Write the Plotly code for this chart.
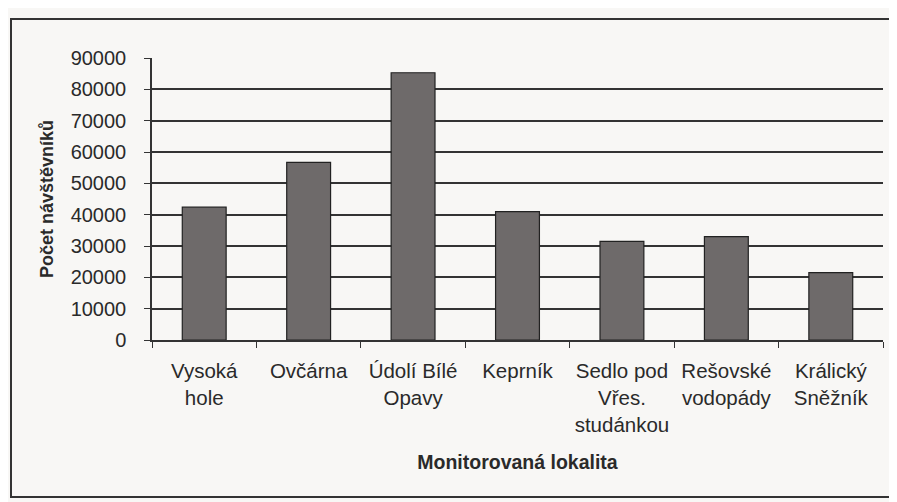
import plotly.graph_objects as go

categories = ["Vysoká<br>hole", "Ovčárna", "Údolí Bílé<br>Opavy", "Keprník",
              "Sedlo pod<br>Vřes.<br>studánkou", "Rešovské<br>vodopády", "Králický<br>Sněžník"]
visitors = [42400, 56700, 85300, 41000, 31500, 33000, 21500]
y_ticks = [0, 10000, 20000, 30000, 40000, 50000, 60000, 70000, 80000, 90000]

FONT = "Liberation Sans, Arial, sans-serif"

# figure is placed at (8,8) by the page's body margin
W, H = 889, 494
L, R, T, B = 144, 14, 50, 162
PW, PH = W - L - R, H - T - B

def px(x):
    return (x - L) / PW

def py(y):
    return (H - B - y) / PH

fig = go.Figure(go.Bar(
    x=categories, y=visitors,
    marker=dict(color="#6e6a6a", line=dict(color="#222222", width=1.2)),
    width=0.42,
))

fig.update_layout(
    width=W, height=H,
    margin=dict(l=L, r=R, t=T, b=B),
    paper_bgcolor="#f8f7f5", plot_bgcolor="#f8f7f5",
    showlegend=False,
    font=dict(family=FONT, color="#2a2a2a"),
    shapes=[dict(type="rect", xref="paper", yref="paper",
                 x0=px(3), x1=px(900), y0=py(489), y1=py(11),
                 line=dict(color="#333333", width=2))],
)
fig.update_xaxes(
    showline=True, linecolor="#333333", linewidth=1.5,
    ticks="outside", tickson="boundaries", ticklen=6, tickcolor="#333333",
    tickfont=dict(size=20.5, family=FONT, color="#2a2a2a"),
    ticklabelstandoff=12,
    title=dict(text="<b>Monitorovaná lokalita</b>", font=dict(size=19.5, family=FONT), standoff=21),
)
fig.update_yaxes(
    range=[0, 90000], tickvals=y_ticks, ticktext=[str(v) for v in y_ticks],
    showline=True, linecolor="#333333", linewidth=1.5,
    showgrid=True, gridcolor="#333333", gridwidth=1.5,
    ticks="outside", ticklen=6, tickcolor="#333333",
    tickfont=dict(size=20, family=FONT, color="#2a2a2a"),
    ticklabelstandoff=14,
    title=dict(text="<b>Počet návštěvníků</b>", font=dict(size=18, family=FONT), standoff=12),
    zeroline=False,
)

fig.write_html("out.html")
